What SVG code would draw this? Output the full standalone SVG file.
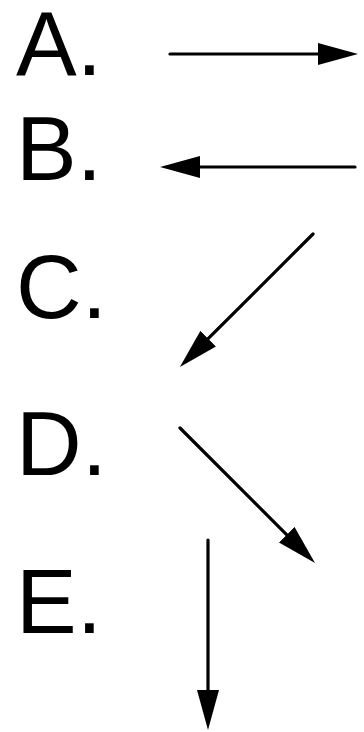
<svg xmlns="http://www.w3.org/2000/svg" width="364" height="732" viewBox="0 0 364 732">
<style>
.lbl{font-family:"Liberation Sans",Arial,sans-serif;font-size:91px;fill:#000}
.arr{stroke:#000;stroke-width:3.2;fill:none;stroke-linecap:round;marker-end:url(#head)}
</style>
<defs>
<marker id="head" markerUnits="userSpaceOnUse" markerWidth="40" markerHeight="22" refX="10" refY="11" orient="auto">
<path d="M0,0 L40,11 L0,22 z" fill="#000"/>
</marker>
</defs>
<rect width="364" height="732" fill="#fff"/>
<g id="label-A"><text class="lbl" x="16" y="75">A.</text></g>
<g id="label-B"><text class="lbl" x="16" y="180">B.</text></g>
<g id="label-C"><text class="lbl" x="16" y="318">C.</text></g>
<g id="label-D"><text class="lbl" x="16" y="475">D.</text></g>
<g id="label-E"><text class="lbl" x="16" y="633">E.</text></g>
<g id="connectors">
<line class="arr" x1="170" y1="54" x2="328" y2="54"/>
<line class="arr" x1="355" y1="167" x2="190" y2="167"/>
<line class="arr" x1="313" y1="234" x2="201.1" y2="345.7"/>
<line class="arr" x1="180" y1="428" x2="293.8" y2="541.8"/>
<line class="arr" x1="208" y1="540" x2="208" y2="700"/>
</g>
</svg>
